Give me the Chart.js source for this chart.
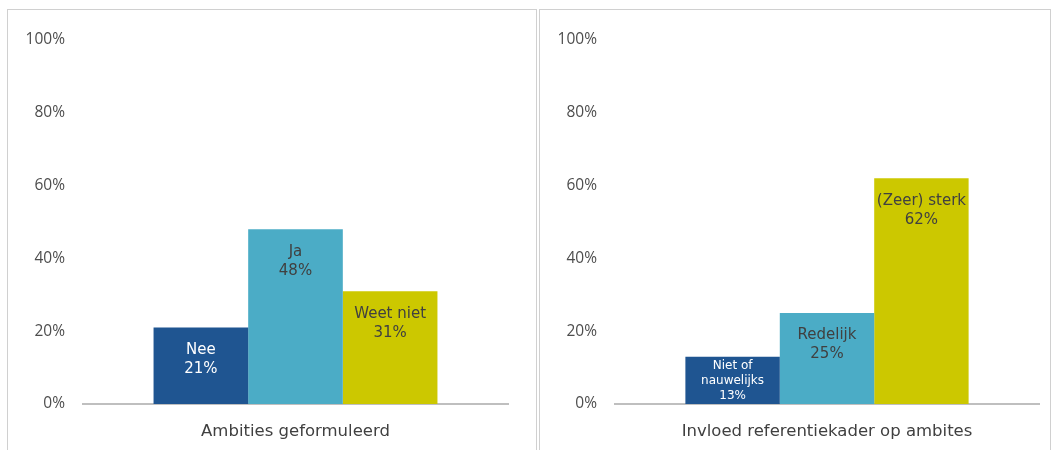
<!DOCTYPE html>
<html>
<head>
<meta charset="utf-8">
<script src="https://cdn.jsdelivr.net/npm/chart.js@4/dist/chart.umd.min.js"></script>
<style>
    body { margin: 0; background: #fff; width: 1054px; height: 450px; overflow: hidden; position: relative; }
    .panel { position: absolute; top: 9px; height: 460px; border: 1.5px solid #d0d0d0; box-sizing: border-box; }
    .wrap { position: absolute; top: 9px; height: 441px; }
</style>
</head>
<body>
<div class="panel" style="left:7px; width:530px"></div>
<div class="panel" style="left:539px; width:512px"></div>
<div class="wrap" style="left:7px; width:529px"><canvas id="leftchart"></canvas></div>
<div class="wrap" style="left:539px; width:511px"><canvas id="rightchart"></canvas></div>
<script>
const leftTitle = "Ambities geformuleerd"
const leftLabels = [["Nee"], ["Ja"], ["Weet niet"]]
const leftValues = [21, 48, 31]

const rightTitle = "Invloed referentiekader op ambites"
const rightLabels = [["Niet of", "nauwelijks"], ["Redelijk"], ["(Zeer) sterk"]]
const rightValues = [13, 25, 62]

const yTicks = [0, 20, 40, 60, 80, 100]

const barColors = ["#1F5591", "#4BACC6", "#CCC800"]
const textColors = ["#ffffff", "#404040", "#404040"]

// draws "label + value%" inside the top of each bar
const barTextPlugin = {
    id: "barText",
    afterDatasetsDraw(chart) {
        const ctx = chart.ctx
        chart.data.datasets.forEach((ds, i) => {
            const bar = chart.getDatasetMeta(i).data[0]
            const lines = ds.textLines.concat([ds.data[0] + "%"])
            const size = lines.length > 2 ? 12 : 15
            const lh = Math.round(size * 1.27)
            const block = lines.length * lh
            const pad = Math.max(2, Math.min(13, (bar.base - bar.y - block) / 2))
            ctx.save()
            ctx.font = `${size}px "DejaVu Sans"`
            ctx.fillStyle = textColors[i]
            ctx.textAlign = "center"
            ctx.textBaseline = "middle"
            lines.forEach((t, k) => {
                ctx.fillText(t, bar.x, bar.y + pad + lh * (k + 0.5))
            })
            ctx.restore()
        })
    }
}

function makeChart(id, title, labels, values, padRight) {
    return new Chart(id, {
        type: "bar",
        data: {
            labels: [title],
            datasets: values.map((v, i) => ({
                label: labels[i].join(" "),
                textLines: labels[i],
                data: [v],
                backgroundColor: barColors[i],
                borderWidth: 0,
                categoryPercentage: 0.668,
                barPercentage: 1.0,
            }))
        },
        options: {
            responsive: true,
            maintainAspectRatio: false,
            animation: false,
            layout: { padding: { top: 31, right: padRight, bottom: 0, left: 0 } },
            plugins: {
                legend: { display: false },
                tooltip: { enabled: false },
            },
            scales: {
                x: {
                    grid: { display: true, color: "transparent", drawTicks: false },
                    border: { display: true, color: "#bfbfbf", width: 2 },
                    afterFit: scale => {
                        scale.height = 46
                    },
                    ticks: {
                        padding: 18,
                        color: "#404040",
                        font: { family: "DejaVu Sans", size: 16.5 },
                    },
                },
                y: {
                    min: yTicks[0],
                    max: yTicks[yTicks.length - 1],
                    grid: { display: false },
                    border: { display: false },
                    afterBuildTicks: scale => {
                        scale.ticks = yTicks.map(v => ({ value: v }))
                    },
                    afterFit: scale => {
                        scale.width = 76
                    },
                    ticks: {
                        padding: 10,
                        color: "#4d4d4d",
                        font: { family: "Open Sans", size: 15.5 },
                        callback: v => v + "%",
                    },
                },
            },
        },
        plugins: [barTextPlugin],
    })
}

makeChart("leftchart", leftTitle, leftLabels, leftValues, 28)
makeChart("rightchart", rightTitle, rightLabels, rightValues, 11)
</script>
</body>
</html>
